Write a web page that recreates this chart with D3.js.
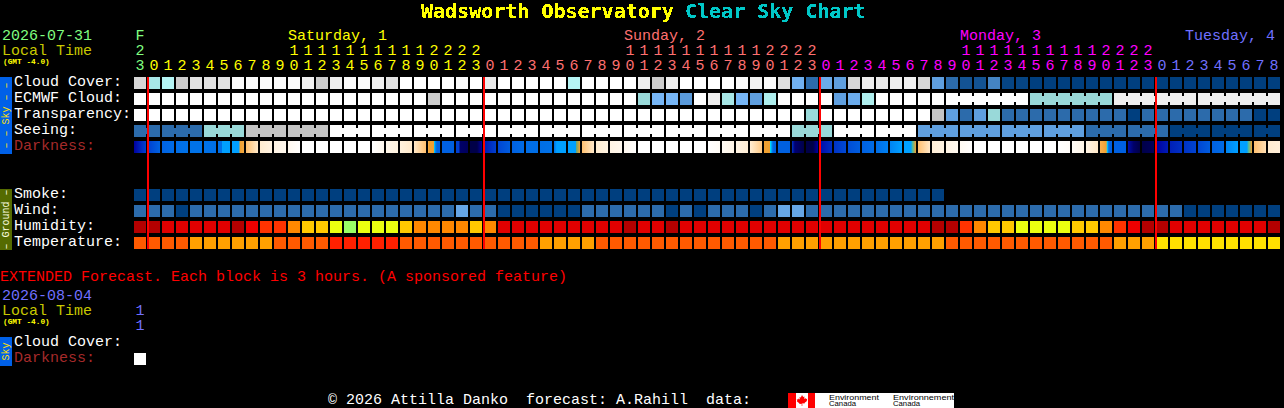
<!DOCTYPE html>
<html><head><meta charset="utf-8">
<script src="https://cdn.jsdelivr.net/npm/d3@7/dist/d3.min.js"></script>
<style>
html,body{margin:0;padding:0;background:#000;overflow:hidden}
svg{display:block}
text{font-family:"Liberation Mono",monospace;font-size:15px;white-space:pre}
</style></head><body>
<svg id="c" width="1284" height="408"></svg>
<script>
// ---------- categories / labels ----------
const skyRows = ["Cloud Cover:","ECMWF Cloud:","Transparency:","Seeing:","Darkness:"];
const groundRows = ["Smoke:","Wind:","Humidity:","Temperature:"];
const hourOnes = [3,0,1,2,3,4,5,6,7,8,9,0,1,2,3,4,5,6,7,8,9,0,1,2,3,0,1,2,3,4,5,6,7,8,9,0,1,2,3,4,5,6,7,8,9,0,1,2,3,0,1,2,3,4,5,6,7,8,9,0,1,2,3,4,5,6,7,8,9,0,1,2,3,0,1,2,3,4,5,6,7,8];
const hourTens = ["2","","","","","","","","","","","1","1","1","1","1","1","1","1","1","1","2","2","2","2","","","","","","","","","","","1","1","1","1","1","1","1","1","1","1","2","2","2","2","","","","","","","","","","","1","1","1","1","1","1","1","1","1","1","2","2","2","2","","","","","","","","",""];
const dayOfColumn = ["Fri","Sat","Sat","Sat","Sat","Sat","Sat","Sat","Sat","Sat","Sat","Sat","Sat","Sat","Sat","Sat","Sat","Sat","Sat","Sat","Sat","Sat","Sat","Sat","Sat","Sun","Sun","Sun","Sun","Sun","Sun","Sun","Sun","Sun","Sun","Sun","Sun","Sun","Sun","Sun","Sun","Sun","Sun","Sun","Sun","Sun","Sun","Sun","Sun","Mon","Mon","Mon","Mon","Mon","Mon","Mon","Mon","Mon","Mon","Mon","Mon","Mon","Mon","Mon","Mon","Mon","Mon","Mon","Mon","Mon","Mon","Mon","Mon","Tue","Tue","Tue","Tue","Tue","Tue","Tue","Tue","Tue"];
const dayKeys = ["Fri","Sat","Sun","Mon","Tue"];
const dayColors = ["#80ff80","#ffff00","#ff7070","#ff00ff","#7070ff"];
const dayLabels = [["Saturday, 1",11,"Sat"],["Sunday, 2",35,"Sun"],["Monday, 3",59,"Mon"]];

// ---------- series values (percent / index per hour column) ----------
const cloudCover = [85,65,70,82,88,88,88,98,98,98,98,98,93,82,92,98,98,93,88,100,100,
  100,100,98,100,90,100,100,100,100,100,70,100,100,100,100,92,82,92,100,100,100,100,98,94,98,87,48,20,45,40,
  85,92,90,92,93,85,40,20,10,10,30,3,3,0,0,0,0,0,0,0,0,0,0,0,0,0,0,0,0,0,0];
const ecmwfCloud = [100,100,100,100,100,100,100,100,100,100,100,100,100,100,100,100,100,100,100,100,100,
  82,100,100,100,100,100,100,100,100,100,100,100,100,100,100,60,50,50,38,100,92,65,50,40,68,100,100,100,100,40,45,68,
  100,100,100,100,100,100,100,100,100,100,100,60,60,60,60,60,60,92,92,92,92,92,92,92,92,92,92,92,92];
const transparency = [100,100,100,100,100,100,100,100,100,100,100,100,100,100,100,100,100,100,100,100,100,100,100,100,
  100,100,100,100,100,100,100,100,100,100,100,100,100,100,100,100,100,100,100,100,100,100,100,100,60,
  100,100,100,100,100,100,100,100,80,40,20,40,60,20,20,20,20,20,20,20,20,20,0,20,20,20,20,20,20,20,20,0,0];
const seeing = [20,20,20,20,20,60,60,60,80,80,80,80,80,80,
  100,100,100,100,100,100,100,100,100,100,100,100,100,100,100,100,100,100,100,100,100,100,100,100,100,100,100,100,100,100,100,100,100,
  60,60,60,100,100,100,100,100,100,40,40,40,40,40,40,40,40,40,40,40,40,20,20,20,20,20,20,0,0,0,0,0,0,0,0];
const smoke = [0,0,0,0,0,0,0,0,0,0,0,0,0,0,0,0,0,0,0,0,0,0,0,0,0,0,0,0,0,0,0,0,0,0,0,0,0,0,0,0,0,0,0,0,0,0,0,0,0,0,0,0,0,0,0,0,0,0];
const wind = [1,1,1,0,1,1,1,1,1,1,1,1,1,1,1,1,1,1,1,1,1,
  1,1,2,1,1,0,0,0,0,0,0,1,1,1,1,1,1,0,1,0,1,1,1,0,1,2,2,1,1,1,
  1,1,1,1,1,1,1,1,1,1,1,1,1,1,1,1,1,1,1,1,1,1,1,1,0,0,0,0,0,0,0];
const humidity = [97,97,92,92,92,92,92,97,88,82,82,77,72,72,67,62,67,67,67,72,77,
  77,77,77,72,77,92,92,92,92,92,92,92,92,92,97,92,92,97,92,92,92,92,92,92,92,92,92,92,92,92,
  92,92,92,92,92,92,97,97,82,77,72,72,67,67,67,67,72,72,77,82,88,97,97,92,92,92,92,92,92,92,97];
const temperature = [24,24,24,24,21,21,21,21,21,21,24,24,24,24,27,27,27,27,27,24,24,
  24,24,24,24,24,24,24,24,21,21,21,21,24,24,24,24,24,24,24,24,24,24,24,24,24,21,21,21,21,21,
  21,21,21,21,21,21,21,24,24,24,24,24,24,24,24,24,24,24,24,21,21,21,18,18,18,18,18,18,18,18,18];
// limiting-magnitude darkness read along the hour axis
const darknessHours = [0,.4,.85,1,1.8,3,4,5,6,6.25,6.3,7,7.5,7.57,7.85,8,8.85,9,10,11,12,17,18,19,20,20.85,21.1,21.4,21.42,21.55,21.65,22.85,23,23.2,23.3,23.85,24,24.5,24.85,25,26,27,28,29,30,30.2,31,31.55,31.6,31.85,32,32.85,33,34,35,36,41,42,43,44,44.85,45,45.4,45.45,45.6,45.7,46.85,47,47.2,47.85,48,48.5,48.85,49,50,51,52,53,54,54.85,55,55.5,55.6,55.85,56,56.85,57,58,59,60,66,67,68,68.85,69,69.45,69.5,69.6,69.7,70.85,71,71.4,71.85,72,72.85,73,74,75,76,77,77.85,78,78.85,79,79.5,79.6,79.85,80,80.85,81,81.85];
const darknessMag = [5,4.5,4,4,3,2.3,2,2,2.2,2.2,0,0,0,-.8,-.9,-1.2,-2,-2.3,-3,-3.4,-4,-4,-3.2,-2.8,-2,-1.2,-.8,-.8,-.2,1.5,3,3,4,4,5.5,5.7,6,6,5,4.6,3.8,3,2.3,2.2,2,0,0,0,-.5,-.8,-1.2,-2,-2.3,-3,-3.4,-4,-4,-3.6,-3,-2.4,-1.4,-.8,-.8,-.2,1.5,3,3,4.2,5.4,6,6,6,5,4.8,4.2,3.6,3,2.3,1,0,0,0,-.4,-.8,-1.2,-2,-2.5,-3,-3.5,-4,-4,-3.7,-3,-2,-1,-.8,-.2,1.5,3,3,4.8,5.5,6,6,5.7,5,4.5,4.2,3.8,3,2.4,1,0,0,0,-.4,-.8,-1.2,-1.8,-2.3,-2.6];
const midnightColumns = [1,25,49,73];
const ecmwfSpans = [[58,63],[64,69],[70,75],[76,81]];
const seeingSpans = [[0,1],[2,4],[5,7],[8,10],[11,13],[14,16],[17,19],[20,22],[23,25],[26,28],[29,31],[32,34],[35,37],[38,40],[41,43],[44,46],[47,49],[50,52],[53,55],[56,58],[59,61],[62,64],[65,67],[68,70],[71,73],[74,76],[77,79],[80,81]];
const extendedDarkness = [-4];

// ---------- scales ----------
const cell = 12, step = 14, columns = 82;
const x = d3.scaleLinear().domain([0,columns]).range([134,134+step*columns]);
const y = d3.scaleOrdinal()
  .domain([...skyRows,"_","__",...groundRows])
  .range([77,93,109,125,141,157,173,189,205,221,237]);
const skyColor = d3.scaleLinear()
  .domain([0,10,20,30,40,50,60,70,80,90,100])
  .range(["#003f7f","#135393","#2c6bab","#4484c4","#5f9fdf","#76b6f6","#99d9d9","#b5f5f5","#c4c4c4","#eaeaea","#ffffff"]);
const windColor = d3.scaleOrdinal().domain([0,1,2]).range(["#003f7f","#2c6bab","#66a6e6"]);
const smokeColor = d3.scaleOrdinal().domain([0]).range(["#003f7f"]);
const humColor = d3.scaleThreshold().domain([65,70,75,80,85,90,95])
  .range(["#99ff66","#ebff10","#ffc800","#ff8800","#ff3300","#ee0000","#e10000","#b40000"]);
const tempColor = d3.scaleThreshold().domain([20,23,26]).range(["#ffe000","#ffa000","#ff5a00","#ff2000"]);
const darkColor = d3.scaleLinear()
  .domain([-4,-3,-2,-1.2,-.8,-.5,-.2,0,1,2,3,4,4.5,5,5.5,6])
  .range(["#ffffff","#fff4e4","#ffe8c8","#ffc070","#f0a030","#70a870","#00e0ff","#00a0ff","#0084f2","#0072e8","#0060e0","#0040d0","#0020b8","#0000a0","#000068","#000048"]);
const dayColor = d3.scaleOrdinal().domain(dayKeys).range(dayColors);

// ---------- drawing ----------
const svg = d3.select("#c");
const defs = svg.append("defs");
const crisp = defs.append("filter").attr("id","crisp").attr("color-interpolation-filters","sRGB");
crisp.append("feComponentTransfer").append("feFuncA").attr("type","discrete").attr("tableValues","0 0 1 1 1");
const grad = defs.append("linearGradient").attr("id","dark")
  .attr("gradientUnits","userSpaceOnUse")
  .attr("x1",x(0)).attr("x2",x(columns)).attr("y1",0).attr("y2",0);
grad.selectAll("stop").data(darknessHours).join("stop")
  .attr("offset",d=>d/columns)
  .attr("stop-color",(d,i)=>darkColor(darknessMag[i]));

const gMarks = svg.append("g").attr("shape-rendering","crispEdges");
function row(name, values, color, cls){
  gMarks.append("g").attr("class",cls).selectAll("rect").data(values).join("rect")
    .attr("x",(d,i)=>x(i)).attr("y",y(name)).attr("width",cell).attr("height",cell)
    .attr("fill",d=>color(d));
}
function links(name, spans, values, color){
  const pairs = spans.flatMap(([a,b])=>d3.range(a,b));
  gMarks.append("g").selectAll("rect").data(pairs).join("rect")
    .attr("x",c=>x(c)+cell).attr("y",y(name)+3).attr("width",step-cell).attr("height",cell-6)
    .attr("fill",c=>color(values[c]));
}
row("Cloud Cover:",cloudCover,skyColor,"cloud");
row("ECMWF Cloud:",ecmwfCloud,skyColor,"ecmwf");
links("ECMWF Cloud:",ecmwfSpans,ecmwfCloud,skyColor);
row("Transparency:",transparency,skyColor,"transp");
row("Seeing:",seeing,skyColor,"seeing");
links("Seeing:",seeingSpans,seeing,skyColor);
gMarks.append("g").selectAll("rect").data(d3.range(columns)).join("rect")
  .attr("x",i=>x(i)).attr("y",y("Darkness:")).attr("width",cell).attr("height",cell)
  .attr("fill","url(#dark)");
row("Smoke:",smoke,smokeColor,"smoke");
row("Wind:",wind,windColor,"wind");
row("Humidity:",humidity,humColor,"hum");
row("Temperature:",temperature,tempColor,"temp");
gMarks.append("g").selectAll("rect").data(midnightColumns).join("rect")
  .attr("x",c=>x(c)-1).attr("y",77).attr("width",2).attr("height",172).attr("fill","#ff0000");

const textLayer = svg.append("g");
function txt(s,px,py,fill,opts={}){
  const t = textLayer.append("text").attr("x",px).attr("y",py).attr("fill",fill).text(s);
  if(opts.size) t.style("font-size",opts.size+"px");
  if(opts.weight) t.style("font-weight",opts.weight);
  if(opts.anchor) t.attr("text-anchor",opts.anchor);
  if(opts.family) t.style("font-family",opts.family);
  if(opts.len) t.attr("textLength",opts.len).attr("lengthAdjust","spacingAndGlyphs");
  if(opts.filter) t.attr("filter",opts.filter);
  return t;
}
// side strips (behind their text)
function strip(y0,y1,bg,fg,label){
  gMarks.append("rect").attr("x",0).attr("y",y0).attr("width",12).attr("height",y1-y0).attr("fill",bg);
  const cy=(y0+y1)/2;
  textLayer.append("text").attr("transform",`translate(9,${cy}) rotate(-90)`).attr("text-anchor","middle")
    .attr("fill",fg).style("font-size","10px").text(label);
}
// title
txt("Wadsworth Observatory",421,18,"#ffff00",{size:20,weight:"bold",family:"'DejaVu Sans Mono'",filter:"url(#crisp)"});
txt("Clear Sky Chart",685,18,"#00c8c8",{size:20,weight:"bold",family:"'DejaVu Sans Mono'",filter:"url(#crisp)"});
// header
txt("2026-07-31",2,40,"#80ff80");
txt("Local Time",2,55,"#c8c800");
txt("(GMT -4.0)",3,64,"#ffff00",{size:7.8,weight:"bold"});
txt("F",x(0)+6,40,dayColor("Fri"),{anchor:"middle"});
dayLabels.forEach(([s,c,k])=>txt(s,x(c),40,dayColor(k)));
txt("Tuesday, 4",1185,40,dayColor("Tue"));
hourTens.forEach((s,i)=>{ if(s) txt(s,x(i)+6,55,dayColor(dayOfColumn[i]),{anchor:"middle"}); });
hourOnes.forEach((s,i)=>txt(String(s),x(i)+6,70,dayColor(dayOfColumn[i]),{anchor:"middle"}));
// row labels
skyRows.forEach(s=>txt(s,14,y(s)+9,s==="Darkness:"?"#a52a2a":"#ffffff"));
groundRows.forEach(s=>txt(s,14,y(s)+9,"#ffffff"));
strip(77,154,"#0060e8","#ffe000","\u2013 \u2013 Sky \u2013 \u2013");
strip(189,250,"#556b00","#ffffe0","\u2013 Ground \u2013");
// extended
txt("EXTENDED Forecast. Each block is 3 hours. (A sponsored feature)",0,281,"#ff0000");
txt("2026-08-04",2,300,"#7070ff");
txt("Local Time",2,315,"#c8c800");
txt("(GMT -4.0)",3,324,"#ffff00",{size:7.8,weight:"bold"});
txt("1",x(0)+6,315,"#7070ff",{anchor:"middle"});
txt("1",x(0)+6,330,"#7070ff",{anchor:"middle"});
txt("Cloud Cover:",14,346,"#ffffff");
txt("Darkness:",14,362,"#a52a2a");
strip(337,366,"#0060e8","#ffe000","Sky");
gMarks.append("g").selectAll("rect").data(extendedDarkness).join("rect")
  .attr("x",(d,i)=>x(i)).attr("y",353).attr("width",cell).attr("height",cell).attr("fill",d=>darkColor(d));
// footer
txt("\u00a9 2026 Attilla Danko  forecast: A.Rahill  data:",328,403.5,"#ffffff");
const logo = svg.append("g").attr("shape-rendering","crispEdges");
logo.append("rect").attr("x",788).attr("y",393).attr("width",166).attr("height",15).attr("fill","#fff");
logo.append("rect").attr("x",788).attr("y",393).attr("width",8).attr("height",15).attr("fill","#ff0000");
logo.append("rect").attr("x",808).attr("y",393).attr("width",7).attr("height",15).attr("fill","#ff0000");
svg.append("path").attr("d","M802 395l1.2 2 1.3-.6-.4 2.6 1.4-1 .4 1 1.4-.2-.6 1.6.6.4-2.6 2-.2.8-2.2-.3V406h-.6v-2.2l-2.2.3-.2-.8-2.6-2 .6-.4-.6-1.6 1.4.2.4-1 1.4 1-.4-2.6 1.3.6z").attr("fill","#ff0000");
const logoText = svg.append("g");
[["Environment",829,399.5,50],["Canada",829,406,27],["Environnement",893,399.5,61],["Canada",893,406,27]].forEach(([s,px,py,w])=>{
  logoText.append("text").attr("x",px).attr("y",py).attr("fill","#000").style("font-size","8px")
    .style("font-family","'Liberation Sans'").attr("textLength",w).attr("lengthAdjust","spacingAndGlyphs").text(s);
});
</script></body></html>
